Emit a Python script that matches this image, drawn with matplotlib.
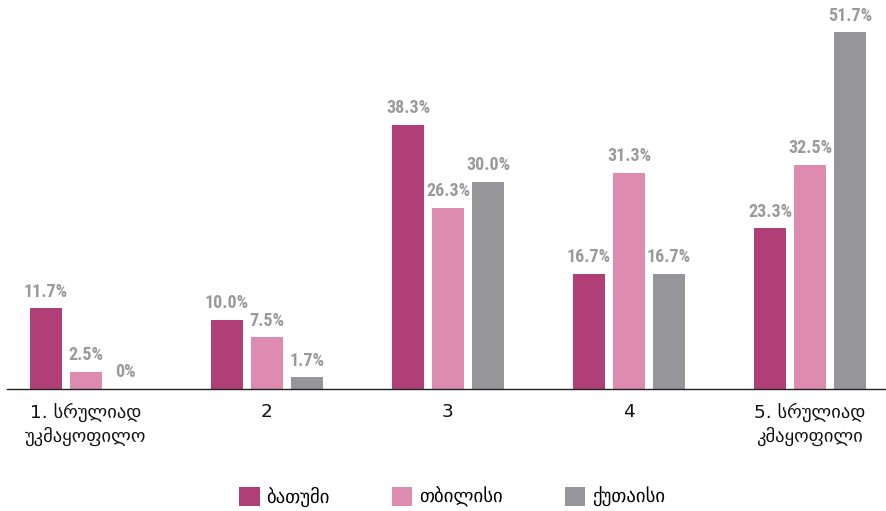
import numpy as np
import matplotlib.pyplot as plt
from matplotlib.patches import Patch

categories = ["1. სრულიად\nუკმაყოფილო", "2", "3", "4", "5. სრულიად\nკმაყოფილი"]
series_names = ["ბათუმი", "თბილისი", "ქუთაისი"]
batumi = [11.7, 10.0, 38.3, 16.7, 23.3]
tbilisi = [2.5, 7.5, 26.3, 31.3, 32.5]
kutaisi = [0, 1.7, 30.0, 16.7, 51.7]
colors = ["#B03F78", "#DE8BB0", "#96969A"]

fig = plt.figure(figsize=(8.86, 5.11), dpi=100)
ax = fig.add_axes([7 / 886, 1 - 389 / 511, 879 / 886, 379.5 / 511])

x = np.arange(len(categories))
width = 0.177
offset = 0.221
for i, (vals, col) in enumerate(zip([batumi, tbilisi, kutaisi], colors)):
    pos = x + (i - 1) * offset
    ax.bar(pos, vals, width=width, color=col, zorder=2)
    # value labels above each bar
    for p, v in zip(pos, vals):
        txt = "0%" if v == 0 else f"{v:.1f}%"
        ax.annotate(txt, (p, v), xytext=(0, 5.5), textcoords="offset points",
                    ha="center", va="bottom", fontsize=13, fontweight="bold",
                    color="#9A9A9C", family="Roboto Condensed")

ax.set_xlim(-0.436, 4.42)
ax.set_ylim(0, 55)
ax.set_xticks(x)
ax.set_xticklabels(categories, fontsize=13.3, color="#111111", linespacing=1.3)
ax.tick_params(axis="x", length=0, pad=10)
ax.set_yticks([])
for s in ["top", "right", "left"]:
    ax.spines[s].set_visible(False)
ax.spines["bottom"].set_color("#222222")
ax.spines["bottom"].set_linewidth(1.0)

handles = [Patch(facecolor=c, label=n) for c, n in zip(colors, series_names)]
fig.legend(handles=handles, loc="center", bbox_to_anchor=(452 / 886, 1 - 497 / 511),
           ncol=3, frameon=False, fontsize=13.5, handlelength=1.1, handleheight=1.15,
           columnspacing=3.3, handletextpad=0.35)

fig.savefig("out.png", dpi=100)
plt.close()
